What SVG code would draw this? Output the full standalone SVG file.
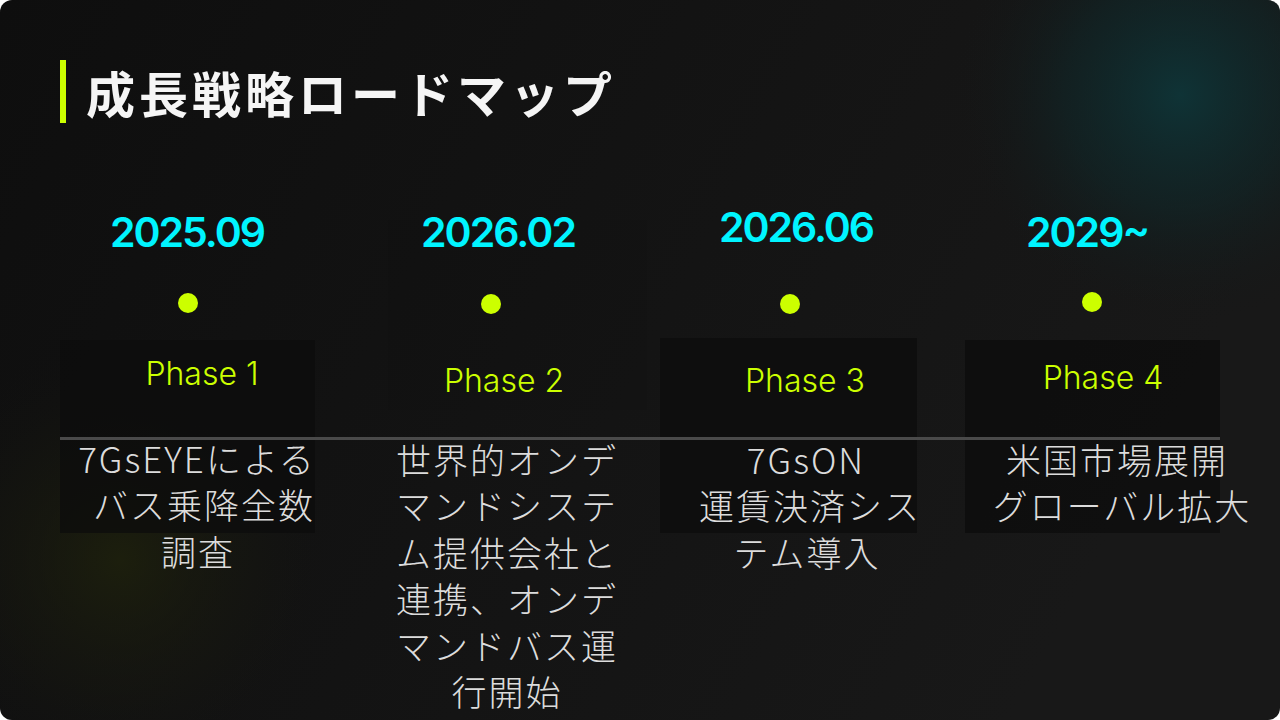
<svg xmlns="http://www.w3.org/2000/svg" width="1280" height="720" viewBox="0 0 1280 720">
  <defs>
    <linearGradient id="bg" x1="0" y1="0" x2="1" y2="0.3">
      <stop offset="0" stop-color="#0e0e0e"/>
      <stop offset="1" stop-color="#181818"/>
    </linearGradient>
    <radialGradient id="glowTeal" cx="1180" cy="95" r="230" gradientUnits="userSpaceOnUse">
      <stop offset="0" stop-color="#0f3336" stop-opacity="1"/>
      <stop offset="0.5" stop-color="#0f2a2c" stop-opacity="0.5"/>
      <stop offset="1" stop-color="#151515" stop-opacity="0"/>
    </radialGradient>
    <radialGradient id="glowLime" cx="120" cy="560" r="220" gradientUnits="userSpaceOnUse">
      <stop offset="0" stop-color="#1f220c" stop-opacity="0.8"/>
      <stop offset="0.6" stop-color="#18190f" stop-opacity="0.35"/>
      <stop offset="1" stop-color="#111111" stop-opacity="0"/>
    </radialGradient>
    <clipPath id="slide">
      <rect x="0" y="0" width="1280" height="720" rx="12"/>
    </clipPath>
    <style>
      .title { font-family: "Noto Sans CJK JP", "Noto Sans", sans-serif; font-size: 49px; font-weight: 700; fill: #f5f5f5; letter-spacing: 4px; }
      .date { font-family: Inter, "Liberation Sans", sans-serif; font-size: 41px; font-weight: 600; fill: #00f4ff; text-anchor: middle; }
      .phase { font-family: Inter, "Liberation Sans", sans-serif; font-size: 32px; font-weight: 300; fill: #ccff00; text-anchor: middle; }
      .body { font-family: "Noto Sans CJK JP", "Noto Sans", sans-serif; font-size: 35px; font-weight: 300; fill: #dcdcdc; text-anchor: middle; letter-spacing: 2px; }
      .dot { fill: #ccff00; }
      .card { fill: #0c0c0c; opacity: 0.75; }
      .card.faint { opacity: 0.15; }
    </style>
  </defs>

  <rect x="0" y="0" width="1280" height="720" fill="#ffffff"/>
  <g clip-path="url(#slide)">
    <rect x="0" y="0" width="1280" height="720" fill="url(#bg)"/>
    <rect x="0" y="0" width="1280" height="720" fill="url(#glowTeal)"/>
    <rect x="0" y="0" width="1280" height="720" fill="url(#glowLime)"/>
  </g>

  <g id="title">
    <rect x="60" y="60" width="6" height="63" fill="#ccff00"/>
    <text class="title" x="86" y="113">成長戦略ロードマップ</text>
  </g>

  <g id="cards">
    <rect class="card faint" x="388" y="220" width="259" height="190"/>
    <rect class="card" x="60" y="340" width="255" height="193"/>
    <rect class="card" x="660" y="338" width="257" height="195"/>
    <rect class="card" x="965" y="340" width="255" height="193"/>
  </g>

  <g id="connectors">
    <line x1="60" y1="438.5" x2="1220" y2="438.5" stroke="#4a4a4a" stroke-width="3"/>
  </g>

  <g id="phase1">
    <text class="date" x="188" y="247" textLength="156">2025.09</text>
    <circle class="dot" cx="188" cy="303" r="10"/>
    <text class="phase" x="202" y="385">Phase 1</text>
    <text class="body" x="197" y="473">7GsEYEによる</text>
    <text class="body" x="204" y="519">バス乗降全数</text>
    <text class="body" x="198" y="566">調査</text>
  </g>

  <g id="phase2">
    <text class="date" x="499" y="247" textLength="156">2026.02</text>
    <circle class="dot" cx="491" cy="304" r="10"/>
    <text class="phase" x="504" y="392">Phase 2</text>
    <text class="body" x="507" y="474">世界的オンデ</text>
    <text class="body" x="507" y="520">マンドシステ</text>
    <text class="body" x="507" y="567">ム提供会社と</text>
    <text class="body" x="507" y="613">連携、オンデ</text>
    <text class="body" x="507" y="660">マンドバス運</text>
    <text class="body" x="507" y="706">行開始</text>
  </g>

  <g id="phase3">
    <text class="date" x="797" y="242" textLength="156">2026.06</text>
    <circle class="dot" cx="790" cy="304" r="10"/>
    <text class="phase" x="805" y="392">Phase 3</text>
    <text class="body" x="806" y="474">7GsON</text>
    <text class="body" x="810" y="520">運賃決済シス</text>
    <text class="body" x="807" y="567">テム導入</text>
  </g>

  <g id="phase4">
    <text class="date" x="1088" y="247" textLength="124">2029~</text>
    <circle class="dot" cx="1092" cy="302" r="10"/>
    <text class="phase" x="1103" y="389">Phase 4</text>
    <text class="body" x="1117" y="474">米国市場展開</text>
    <text class="body" x="1122" y="520">グローバル拡大</text>
  </g>
</svg>
